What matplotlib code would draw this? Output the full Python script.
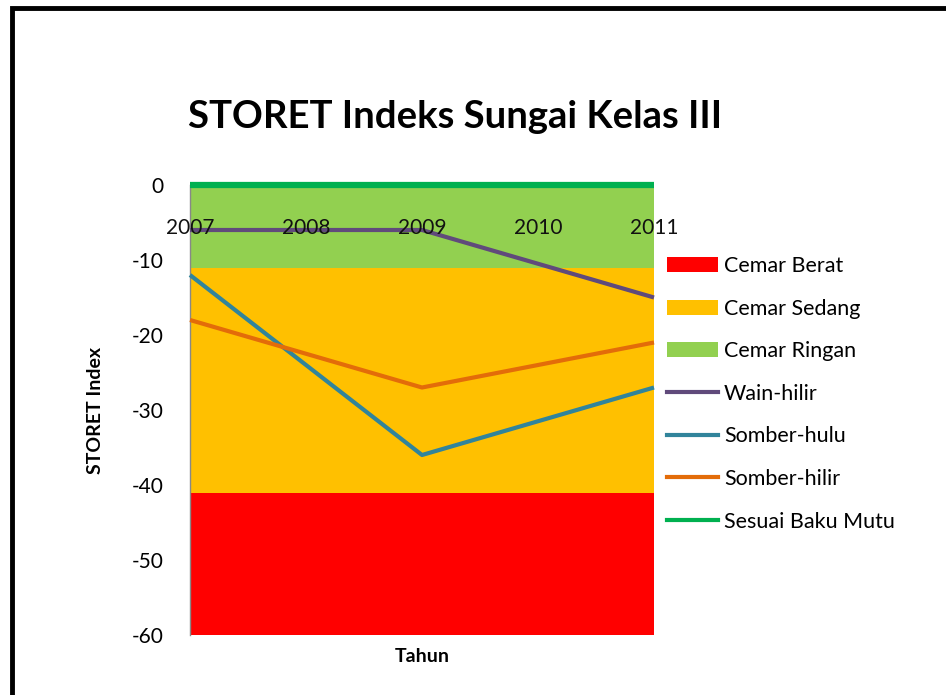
import matplotlib
matplotlib.use("Agg")
import matplotlib.pyplot as plt
from matplotlib.patches import Patch, Rectangle
from matplotlib.lines import Line2D

plt.rcParams['font.family'] = ['Lato', 'DejaVu Sans']

# Categories
years = [2007, 2008, 2009, 2010, 2011]
# Pollution class bands (lower, upper)
band_names = ["Cemar Berat", "Cemar Sedang", "Cemar Ringan"]
band_lower = [-60, -41, -11]
band_upper = [-41, -11, 0]
band_colors = ["#FF0000", "#FFC000", "#92D050"]

# Series
series_names = ["Wain-hilir", "Somber-hulu", "Somber-hilir", "Sesuai Baku Mutu"]
series_years = [[2007, 2008, 2009, 2011],
                [2007, 2009, 2011],
                [2007, 2009, 2011],
                [2007, 2008, 2009, 2010, 2011]]
series_values = [[-6, -6, -6, -15],
                 [-12, -36, -27],
                 [-18, -27, -21],
                 [0, 0, 0, 0, 0]]
series_colors = ["#604A7B", "#31849B", "#E36C09", "#00B050"]
series_widths = [3.0, 3.0, 3.0, 4.5]

yticks = [0, -10, -20, -30, -40, -50, -60]

W, H = 946, 695
fig = plt.figure(figsize=(W / 100, H / 100), dpi=100)
ax = fig.add_axes([190 / W, 1 - 635 / H, (654 - 190) / W, (635 - 185) / H])

for lo, hi, c in zip(band_lower, band_upper, band_colors):
    ax.fill_between([years[0], years[-1]], lo, hi, color=c, linewidth=0, zorder=1)

for xs, ys, c, lw in zip(series_years, series_values, series_colors, series_widths):
    ax.plot(xs, ys, color=c, linewidth=lw, solid_capstyle='butt', zorder=3, clip_on=False)

ax.set_xlim(years[0], years[-1])
ax.set_ylim(-60, 0)
ax.set_yticks(yticks)
ax.set_yticklabels([str(v) for v in yticks], fontsize=15)
ax.tick_params(axis='y', length=0, pad=19)
ax.set_xticks([])
for s in ['top', 'right', 'bottom']:
    ax.spines[s].set_visible(False)
ax.spines['left'].set_color('#888888')
ax.spines['left'].set_linewidth(1.0)

for yr in years:
    ax.annotate(str(yr), xy=(yr, 0), xytext=(0, -24), textcoords='offset points',
                ha='center', va='top', fontsize=15, color='#111111', zorder=4)

ax.set_ylabel("STORET Index", fontsize=14, fontweight='bold', labelpad=20)
ax.set_xlabel("Tahun", fontsize=14, fontweight='bold', labelpad=9)

fig.text(455 / W, 1 - 117 / H, "STORET Indeks Sungai Kelas III", ha='center', va='center',
         fontsize=27.5, fontweight='bold')

handles = [Patch(facecolor=c, edgecolor='none') for c in band_colors]
handles += [Line2D([0], [0], color=c, linewidth=3.0) for c in series_colors]
labels = band_names + series_names
fig.legend(handles, labels, loc='upper left', bbox_to_anchor=(667 / W, 1 - 256 / H),
           frameon=False, fontsize=15.5, handlelength=2.35, handletextpad=0.3,
           labelspacing=1.05, borderaxespad=0, borderpad=0)

# chart frame
fig.patches.append(Rectangle((12 / W, -0.05), 1.1, 1 - 8 / H + 0.05, transform=fig.transFigure,
                             fill=False, edgecolor='black', linewidth=3.5, zorder=10))

fig.savefig("out.png", dpi=100)
